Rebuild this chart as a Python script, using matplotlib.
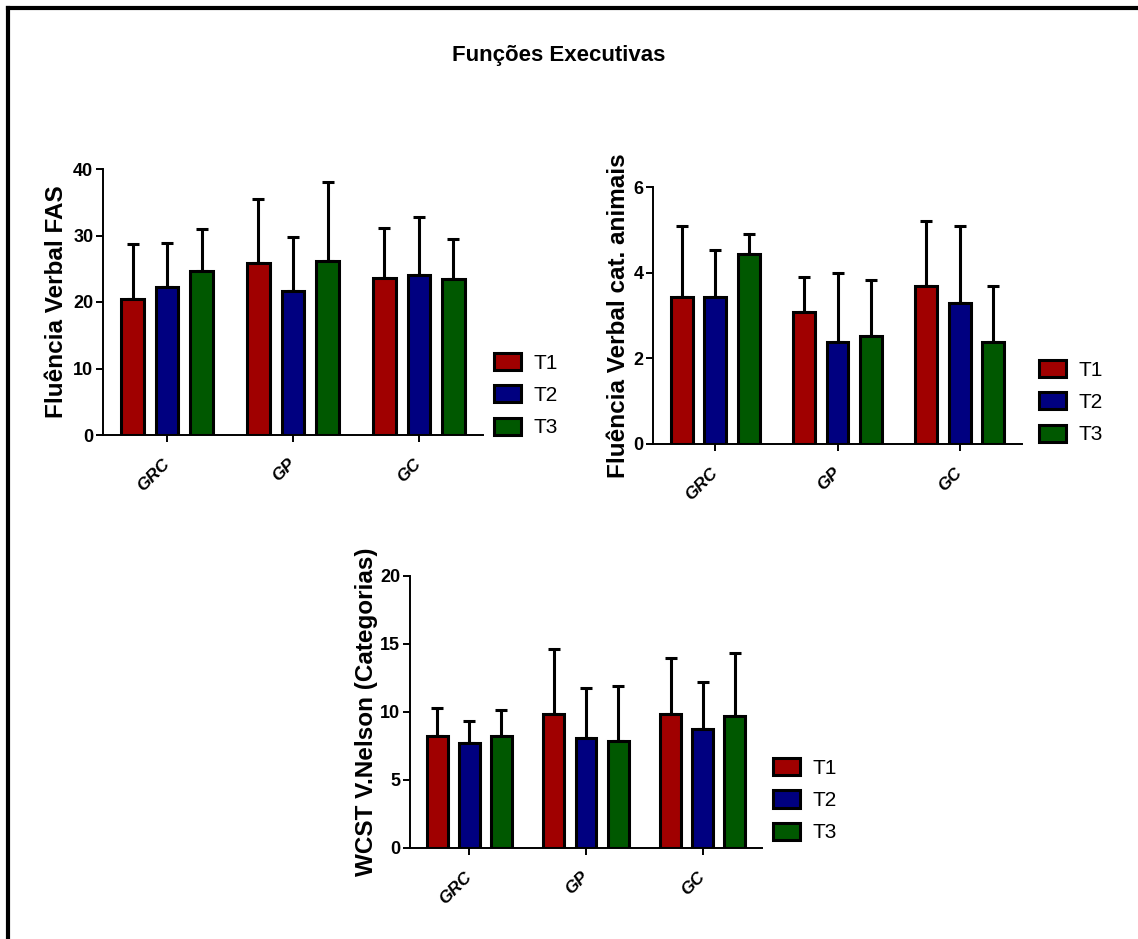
import matplotlib
matplotlib.use("Agg")
import matplotlib.pyplot as plt
from matplotlib.lines import Line2D
import numpy as np

# ---------------- data ----------------
groups = ["GRC", "GP", "GC"]
series = ["T1", "T2", "T3"]
colors = ["#a00000", "#000080", "#005800"]

fas_mean = {"T1": [20.4, 25.8, 23.6], "T2": [22.2, 21.7, 24.1], "T3": [24.6, 26.1, 23.4]}
fas_sd = {"T1": [8.3, 9.7, 7.5], "T2": [6.6, 8.0, 8.7], "T3": [6.4, 11.9, 6.0]}

ani_mean = {"T1": [3.43, 3.08, 3.69], "T2": [3.43, 2.39, 3.30], "T3": [4.43, 2.53, 2.39]}
ani_sd = {"T1": [1.67, 0.82, 1.52], "T2": [1.09, 1.60, 1.80], "T3": [0.47, 1.29, 1.30]}

wcst_mean = {"T1": [8.21, 9.88, 9.88], "T2": [7.72, 8.11, 8.77], "T3": [8.21, 7.84, 9.71]}
wcst_sd = {"T1": [2.08, 4.78, 4.09], "T2": [1.62, 3.68, 3.43], "T3": [1.91, 4.10, 4.63]}

title = "Funções Executivas"
ylabels = ["Fluência Verbal FAS", "Fluência Verbal cat. animais", "WCST V.Nelson (Categorias)"]
yticks_list = [[0, 10, 20, 30, 40], [0, 2, 4, 6], [0, 5, 10, 15, 20]]
ylims = [40, 6, 20]

# ---------------- style ----------------
plt.rcParams["font.family"] = ["Liberation Sans", "DejaVu Sans"]

W, H = 1138, 939
fig = plt.figure(figsize=(W / 100, H / 100), dpi=100)
fig.patch.set_facecolor("white")

def px_axes(l, r, b, t):
    return [l / W, 1 - b / H, (r - l) / W, (b - t) / H]

panels = [
    dict(rect=px_axes(103, 483, 435, 169), mean=fas_mean, sd=fas_sd,
         leg=(1.03, 0.15), ylab_x=-0.092),
    dict(rect=px_axes(653, 1022, 444, 187), mean=ani_mean, sd=ani_sd,
         leg=(1.046, 0.163), ylab_x=-0.062),
    dict(rect=px_axes(410, 762, 848, 576), mean=wcst_mean, sd=wcst_sd,
         leg=(1.031, 0.176), ylab_x=-0.091),
]

x = np.arange(len(groups))
offset = 0.275
bw = 0.18

for i, p in enumerate(panels):
    ax = fig.add_axes(p["rect"])
    handles = []
    for j, s in enumerate(series):
        xs = x + (j - 1) * offset
        m = np.array(p["mean"][s])
        sd = np.array(p["sd"][s])
        ax.errorbar(xs, m, yerr=[np.zeros_like(sd), sd], fmt="none",
                    ecolor="black", elinewidth=2.2, capsize=4.5, capthick=2.2, zorder=2)
        b = ax.bar(xs, m, width=bw, color=colors[j], edgecolor="black",
                   linewidth=2.2, zorder=3, label=s)
        handles.append(b)
    ax.set_xlim(-0.51, 2.51)
    ax.set_ylim(0, ylims[i])
    ax.set_yticks(yticks_list[i])
    ax.set_xticks(x)
    ax.set_xticklabels(groups, rotation=45, ha="right", va="center",
                       rotation_mode="anchor", fontweight="bold",
                       fontstyle="italic", fontsize=12.5)
    for lab in ax.get_yticklabels():
        lab.set_fontweight("bold")
        lab.set_fontsize(13)
    ax.spines["top"].set_visible(False)
    ax.spines["right"].set_visible(False)
    for sp in ("left", "bottom"):
        ax.spines[sp].set_linewidth(1.4)
    ax.tick_params(axis="both", direction="out", length=5, width=1.4, colors="black")
    ax.tick_params(axis="x", pad=14)
    ax.tick_params(axis="y", pad=2)
    ax.set_ylabel(ylabels[i], fontsize=17.5, fontweight="bold")
    ax.yaxis.set_label_coords(p["ylab_x"], 0.5)
    ax.set_facecolor("none")
    ax.legend(handles=handles, labels=series, loc="center left",
              bbox_to_anchor=p["leg"], frameon=False, borderpad=0,
              borderaxespad=0, handlelength=1.3, handleheight=0.9,
              labelspacing=0.6, handletextpad=0.6,
              prop=dict(size=15))

fig.text(559 / W, 1 - 55 / H, title, ha="center", va="center",
         fontsize=16, fontweight="bold")

# frame lines (top and left)
fig.add_artist(Line2D([8 / W, 1.0], [1 - 8 / H, 1 - 8 / H], transform=fig.transFigure,
                      color="black", linewidth=3.0))
fig.add_artist(Line2D([8 / W, 8 / W], [0.0, 1 - 8 / H], transform=fig.transFigure,
                      color="black", linewidth=3.0))

fig.savefig("out.png", dpi=100, facecolor="white")
